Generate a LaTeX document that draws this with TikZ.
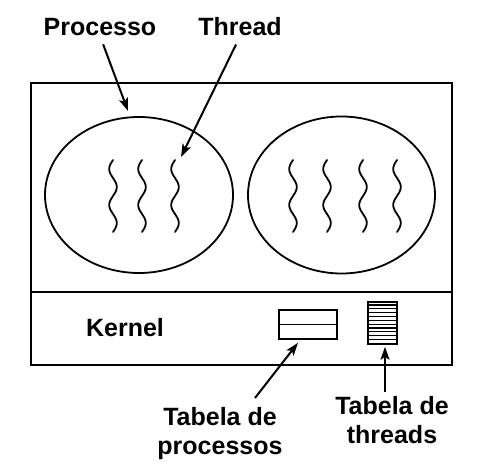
\documentclass[tikz,border=0pt]{standalone}
\usepackage{fontspec}
\setmainfont{Liberation Sans}
\usepackage{tikz}
\usetikzlibrary{positioning}
\usetikzlibrary{arrows.meta}
\usetikzlibrary{shapes.geometric}
\tikzset{
    PxGrid/.style={x=1pt,y=-1pt},
    procbox/.style={draw,ellipse,line width=1.8pt,inner sep=0pt},
    tabbox/.style={draw,rectangle,line width=1.6pt,inner sep=0pt},
    lbl/.style={font=\fontsize{25}{29}\selectfont\bfseries,align=center,inner sep=0pt},
    pointer/.style={-{Stealth[length=13pt,width=9pt,inset=3pt]},line width=2pt},
    wave/.style={line width=1.8pt,line cap=round}
}

\begin{document}
\begin{tikzpicture}[PxGrid]
            \useasboundingbox (0,0) rectangle (482,470);

            % machine: user space and kernel
            \draw[line width=1.8pt] (31,83) rectangle (452,365);
            \draw[line width=1.8pt] (31,292) -- (452,292);

            % the two processes
            \node[procbox,minimum width=188pt,minimum height=156pt] (procA) at (139,195) {};
            \node[procbox,minimum width=187pt,minimum height=157pt] (procB) at (341.5,195) {};
            \foreach \sx in {113,142,175,293,327,363,397}
                \draw[wave] plot[smooth,domain=0:72,samples=37,variable=\t] ({\sx-3.8*sin(10*\t)},{160+\t});

            % kernel tables
            \node[tabbox,minimum width=58pt,minimum height=29pt] (ptab) at (308,324.5) {};
            \draw[line width=1.6pt] (ptab.west) -- (ptab.east);
            \node[tabbox,minimum width=29pt,minimum height=42pt] (ttab) at (382.5,323) {};
            \foreach \i in {1,...,10}
                \draw[line width=1.2pt] ([yshift={-\i*3.82pt}]ttab.north west) -- ([yshift={-\i*3.82pt}]ttab.north east);

            % labels
            \node[lbl] (lblProc) at (100,27) {Processo};
            \node[lbl] (lblThr) at (240,27) {Thread};
            \node[lbl] (lblKern) at (125,327.5) {Kernel};
            \node[lbl] (lblPtab) at (220,434) {Tabela de\\processos};
            \node[lbl] (lblTtab) at (392,420.5) {Tabela de\\threads};

            \coordinate (tipProc) at (128,111);
            \coordinate (tipThr) at (181,157);
            \coordinate (footPtab) at (255,398);
            \coordinate (footTtab) at (385,392);

            \draw[pointer,shorten <=9pt] (lblProc.south) -- (tipProc);
            \draw[pointer,shorten <=9pt] (lblThr.south) -- (tipThr);
            \draw[pointer] (footPtab) -- ([xshift=-10pt,yshift=-3pt]ptab.south);
            \draw[pointer] (footTtab) -- ([xshift=2.5pt,yshift=-2pt]ttab.south);
        \end{tikzpicture}
\end{document}
